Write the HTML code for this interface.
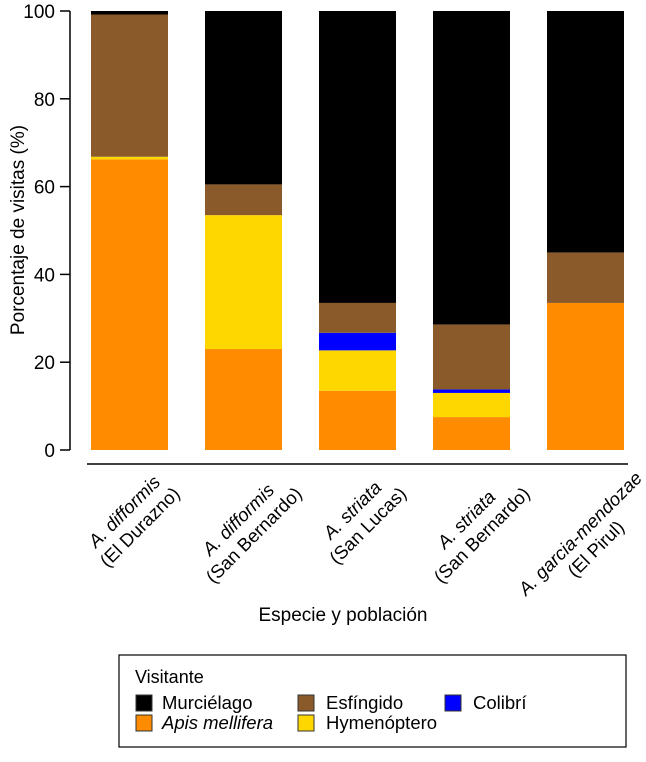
<!DOCTYPE html>
<html><head><meta charset="utf-8"><style>
body{margin:0;background:#fff;}
svg text{font-family:"Liberation Sans",Arial,sans-serif;fill:#000;}
</style></head><body>
<svg id="chart" width="646" height="757" viewBox="0 0 646 757" xmlns="http://www.w3.org/2000/svg">
<g id="bars"></g>
<g id="yaxis"></g>
<line x1="87" y1="464" x2="628" y2="464" stroke="#000" stroke-width="1.5"/>
<g id="xlabels"></g>
<text transform="translate(24,230) rotate(-90)" text-anchor="middle" font-size="19">Porcentaje de visitas (%)</text>
<text x="343" y="621" text-anchor="middle" font-size="19">Especie y población</text>
<g>
<rect x="119" y="655" width="507" height="92" fill="#fff" stroke="#000" stroke-width="1.2"/>
<text x="135" y="683" font-size="18">Visitante</text>
<g><rect x="136" y="695" width="16" height="16" fill="#000" stroke="#333"/><text x="162" y="709" font-size="18.5">Murciélago</text></g>
<g><rect x="298" y="695" width="16" height="16" fill="#8B5A2B" stroke="#333"/><text x="326" y="709" font-size="18.5">Esfíngido</text></g>
<g><rect x="445" y="695" width="16" height="16" fill="#0000FF" stroke="#333"/><text x="473" y="709" font-size="18.5">Colibrí</text></g>
<g><rect x="136" y="715" width="16" height="16" fill="#FF8C00" stroke="#333"/><text x="162" y="729" font-size="18.5" font-style="italic">Apis mellifera</text></g>
<g><rect x="298" y="715" width="16" height="16" fill="#FFD700" stroke="#333"/><text x="326" y="729" font-size="18.5">Hymenóptero</text></g>
</g>
</svg>
<script>
const species = ["A. difformis","A. difformis","A. striata","A. striata","A. garcia-mendozae"];
const places = ["(El Durazno)","(San Bernardo)","(San Lucas)","(San Bernardo)","(El Pirul)"];
const apis = [66.2, 23, 13.5, 7.5, 33.5];
const hymen = [0.6, 30.5, 9.2, 5.5, 0];
const colibri = [0, 0, 4, 0.8, 0];
const esfingido = [32.4, 7, 6.8, 14.8, 11.5];
const murcielago = [0.8, 39.5, 66.5, 71.4, 55];
const yTicks = [0,20,40,60,80,100];
const seriesList = [["apis",apis,"#FF8C00"],["hymenoptero",hymen,"#FFD700"],["colibri",colibri,"#0000FF"],["esfingido",esfingido,"#8B5A2B"],["murcielago",murcielago,"#000"]];
const NS="http://www.w3.org/2000/svg";
const y = v => 450 - v*4.39;
const xc = i => 129.5 + i*114;
const bw = 77;
const bars=document.getElementById('bars');
species.forEach((s,i)=>{
  let cum=0;
  seriesList.forEach(([name,arr,col])=>{
    const v=arr[i]; if(!v) return;
    const r=document.createElementNS(NS,'rect');
    
    
    r.setAttribute('x',xc(i)-bw/2); r.setAttribute('width',bw);
    r.setAttribute('y',y(cum+v)); r.setAttribute('height',y(cum)-y(cum+v));
    r.setAttribute('fill',col);
    bars.appendChild(r); cum+=v;
  });
});
const ya=document.getElementById('yaxis');
let l=document.createElementNS(NS,'line');


l.setAttribute('x1',70);l.setAttribute('x2',70);l.setAttribute('y1',y(100));l.setAttribute('y2',y(0));l.setAttribute('stroke','#000');l.setAttribute('stroke-width',1.5);ya.appendChild(l);
yTicks.forEach(t=>{
  const k=document.createElementNS(NS,'line');
  
  
  k.setAttribute('x1',60);k.setAttribute('x2',70);k.setAttribute('y1',y(t));k.setAttribute('y2',y(t));k.setAttribute('stroke','#000');k.setAttribute('stroke-width',1.5);ya.appendChild(k);
  const tx=document.createElementNS(NS,'text');
  
  
  tx.setAttribute('x',55);tx.setAttribute('y',y(t)+7);tx.setAttribute('text-anchor','end');tx.setAttribute('font-size',19);tx.textContent=t;ya.appendChild(tx);
});
const xl=document.getElementById('xlabels');
species.forEach((s,i)=>{
  const g=document.createElementNS(NS,'text');
  
  
  g.setAttribute('text-anchor','middle');g.setAttribute('font-size',18.5);
  const t1=document.createElementNS(NS,'tspan');t1.setAttribute('x',0);t1.setAttribute('y',-4);t1.setAttribute('font-style','italic');t1.textContent=s;
  const t2=document.createElementNS(NS,'tspan');t2.setAttribute('x',0);t2.setAttribute('y',18);t2.textContent=places[i];
  g.appendChild(t1);g.appendChild(t2);xl.appendChild(g);
  const W=Math.max(t1.getComputedTextLength(),t2.getComputedTextLength());
  g.setAttribute('transform','translate('+(xc(i)+2)+','+(482+0.354*W)+') rotate(-45)');
});
</script>
</body></html>
